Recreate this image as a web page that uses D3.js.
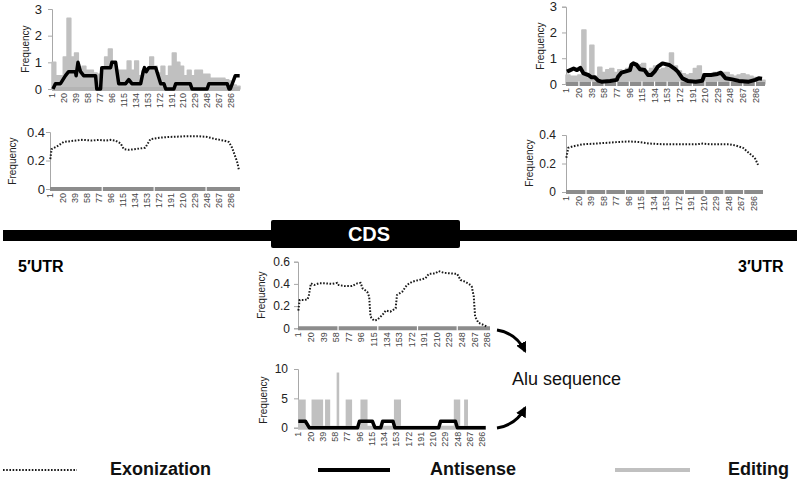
<!DOCTYPE html>
<html><head><meta charset="utf-8">
<script src="https://cdn.jsdelivr.net/npm/d3@7"></script>
<style>body{margin:0;background:#fff}svg{display:block;font-family:"Liberation Sans",Arial,sans-serif}</style>
</head><body>
<svg id="c" width="800" height="480"></svg>
<script>
// ---------- DATA ----------
const tickLabels = ["1","20","39","58","77","96","115","134","153","172","191","210","229","248","267","286"];

// 5'UTR (top-left): editing in 6-position bins, antisense points, exonization points
const editA = [1.0,0.5,0.5,1.2,2.65,1.2,1.35,0.7,0.85,0.7, 0.7,0.6,0.55,0.7,1.2,1.5,1.0,0.7,0.7,0.7,
               1.05,0.7,1.05,0.5,0.7,0.7,1.2,0.85,0.6,0.85, 0.5,0.85,1.35,1.0,0.85,0.5,0.7,0.5,0.7,0.7,
               0.55,0.55,0.4,0.4,0.4,0.4,0.35,0.3,0.15,0.1];
const antiAPos = [2,6,14,22,27,38,39,42,46,51,70,72,78,80,94,96,102,107,118,123,128,142,146,148,151,155,166,174,179,182,195,198,221,224,248,251,280,283,285,293,300];
const antiAVal = [0,0.2,0.2,0.5,0.65,0.65,0.5,1.0,0.65,0.5,0.5,0,0,0.8,0.8,1.0,1.0,0.2,0.2,0.35,0.2,0.2,0.65,0.8,0.65,0.8,0.8,0.2,0.2,0,0,0.2,0.2,0,0,0.2,0.2,0,0,0.5,0.5];
const exoBPos = [1,3,12,22,41,51,67,78,88,96,104,112,117,125,136,151,159,173,188,215,236,249,262,275,283,288,292,296,299];
const exoBVal = [0.21,0.28,0.30,0.33,0.34,0.345,0.34,0.345,0.34,0.345,0.34,0.32,0.28,0.275,0.28,0.29,0.35,0.36,0.365,0.37,0.37,0.365,0.35,0.34,0.33,0.29,0.24,0.19,0.13];

// 3'UTR (top-right)
const editC = [0.35,0.3,0.3,0.35,2.1,0.3,1.5,0.3,0.65,0.45, 0.55,0.6,0.45,0.55,0.5,0.6,0.65,0.8,0.75,0.8,
               0.5,0.6,0.7,0.55,0.6,0.65,1.2,0.7,0.5,0.4, 0.35,0.4,0.6,0.7,0.4,0.3,0.4,0.45,0.4,0.45,
               0.45,0.35,0.3,0.35,0.4,0.35,0.3,0.25,0.2,0.15];
const antiCPos = [2,7,12,17,22,27,34,39,44,49,54,67,77,79,84,92,97,99,102,107,112,119,124,129,134,139,146,156,164,169,176,184,196,206,209,219,229,234,241,251,261,276,286,291,296];
const antiCVal = [0.48,0.54,0.6,0.54,0.63,0.41,0.35,0.26,0.26,0.13,0.09,0.12,0.16,0.28,0.44,0.5,0.54,0.74,0.8,0.74,0.57,0.54,0.35,0.35,0.48,0.67,0.8,0.74,0.6,0.48,0.22,0.12,0.09,0.13,0.35,0.35,0.39,0.44,0.22,0.18,0.12,0.09,0.16,0.22,0.2];
const exoDPos = [1,4,11,26,47,77,97,113,128,148,173,199,209,219,249,260,270,280,288,293];
const exoDVal = [0.24,0.31,0.32,0.335,0.34,0.35,0.355,0.35,0.34,0.335,0.335,0.335,0.34,0.335,0.335,0.325,0.31,0.27,0.24,0.19];

// Alu sequence (middle)
const exoEPos = [1,3,10,15,17,20,25,32,42,52,60,62,72,82,90,95,98,105,108,110,115,120,128,133,140,148,150,158,165,173,183,193,198,208,213,221,231,241,246,253,261,263,266,268,273,281,286];
const exoEVal = [0.16,0.255,0.255,0.26,0.3,0.405,0.39,0.405,0.405,0.4,0.41,0.39,0.38,0.38,0.405,0.41,0.36,0.33,0.285,0.105,0.07,0.075,0.12,0.16,0.15,0.18,0.3,0.33,0.39,0.42,0.435,0.45,0.49,0.495,0.515,0.5,0.495,0.49,0.435,0.42,0.39,0.375,0.285,0.105,0.05,0.03,0.015];
const editFStart = [1,22,43,61,75,98,150,243,259];
const editFEnd   = [12,39,50,64,84,108,160,252,264];
const editFVal   = [4.8,4.8,4.8,9.4,4.8,4.8,4.8,4.8,4.8];
const antiFPos = [1,12,18,93,96,116,120,129,132,148,151,219,222,245,248,292];
const antiFVal = [1.1,1.1,0,0,1.1,1.1,0,0,1.1,1.1,0,0,1.1,1.1,0,0];

const legendLabels = ["Exonization","Antisense","Editing"];

// ---------- DRAWING ----------
const svg = d3.select("#c");
const GREY = "#c0c0c0", BAND = "#8c8c8c";

function panel(o){
  const g = svg.append("g");
  const x = d3.scaleLinear().domain([0.5, o.n + 0.5]).range([o.x0, o.x1]);
  const y = d3.scaleLinear().domain([0, o.ymax]).range([o.y0, o.y1]);
  // y axis
  const ax = g.append("g").attr("transform", `translate(${o.x0},0)`)
    .call(d3.axisLeft(y).tickValues(o.yt).tickSize(4).tickPadding(o.pad).tickFormat(d => String(d)));
  ax.select(".domain").attr("stroke", "#a8a8a8");
  ax.selectAll(".tick line").attr("stroke", "#a8a8a8");
  ax.selectAll(".tick text").attr("font-size", o.fs).attr("fill", "#222")
    .attr("font-family", '"Liberation Sans",Arial,sans-serif');
  // Frequency label
  g.append("text").attr("transform", `translate(${o.fx},${o.fy}) rotate(-90)`)
    .attr("text-anchor", "middle").attr("dy", "0.35em").attr("font-size", 10).attr("fill", "#222").text("Frequency");
  // x tick labels
  g.append("g").selectAll("text").data(tickLabels).join("text")
    .attr("transform", d => `translate(${x(+d)},${o.y0 + 4}) rotate(-90)`)
    .attr("text-anchor", "end").attr("dy", "0.35em").attr("font-size", 9).attr("fill", "#444").text(d => d);
  return {g, x, y};
}

function band(p, o, color, step){
  p.g.append("line").attr("x1", o.x0).attr("x2", o.x1).attr("y1", o.y0).attr("y2", o.y0)
    .attr("stroke", color).attr("stroke-width", 4);
  if (step) {
    p.g.append("g").selectAll("line").data(d3.range(1 + step, o.n, step)).join("line")
      .attr("x1", d => p.x(d)).attr("x2", d => p.x(d)).attr("y1", o.y0 - 2.5).attr("y2", o.y0 + 2.5)
      .attr("stroke", "#fff").attr("stroke-width", 1.2);
  }
}

function editBins(p, o, vals){
  const pts = vals.map((v, i) => [i * 6 + 0.5, v]);
  pts.push([o.n + 0.5, vals[vals.length - 1]]);
  p.g.append("path").datum(pts)
    .attr("d", d3.area().x(d => p.x(d[0])).y0(o.y0).y1(d => p.y(d[1])).curve(d3.curveStepAfter))
    .attr("fill", GREY).attr("stroke", GREY).attr("stroke-width", 1.5).attr("stroke-linejoin", "round");
}

function lineSeries(p, pos, val, dotted, w){
  const pts = pos.map((d, i) => [d, val[i]]);
  const path = p.g.append("path").datum(pts)
    .attr("d", d3.line().x(d => p.x(d[0])).y(d => p.y(d[1])))
    .attr("fill", "none").attr("stroke", dotted ? "#1a1a1a" : "#000");
  if (dotted) path.attr("stroke-width", 2).attr("stroke-dasharray", "1.6,1.6");
  else path.attr("stroke-width", w || 3.5).attr("stroke-linejoin", "round").attr("stroke-linecap", "butt");
}

// Panel A
const oA = {x0:52, x1:240, y0:89, y1:9, ymax:3, yt:[0,1,2,3], n:300, pad:6, fs:13, fx:25, fy:49};
const pA = panel(oA);
editBins(pA, oA, editA);
band(pA, oA, "#b4b4b4", 0);
lineSeries(pA, antiAPos, antiAVal, false, 3.5);

// Panel B
const oB = {x0:50, x1:240, y0:189, y1:132, ymax:0.4, yt:[0,0.2,0.4], n:300, pad:1, fs:13, fx:12, fy:161};
const pB = panel(oB);
band(pB, oB, BAND, 82);
lineSeries(pB, exoBPos, exoBVal, true);

// Panel C
const oC = {x0:566, x1:765, y0:84, y1:6.7, ymax:3, yt:[0,1,2,3], n:300, pad:5, fs:13, fx:540, fy:46};
const pC = panel(oC);
editBins(pC, oC, editC);
band(pC, oC, BAND, 19);
lineSeries(pC, antiCPos, antiCVal, false, 4);

// Panel D
const oD = {x0:566, x1:763, y0:192, y1:135, ymax:0.4, yt:[0,0.2,0.4], n:300, pad:6, fs:12, fx:529, fy:163};
const pD = panel(oD);
band(pD, oD, BAND, 30);
lineSeries(pD, exoDPos, exoDVal, true);

// Panel E
const oE = {x0:298, x1:490, y0:328.3, y1:261.7, ymax:0.6, yt:[0,0.2,0.4,0.6], n:290, pad:4, fs:12, fx:261, fy:295};
const pE = panel(oE);
band(pE, oE, BAND, 60);
lineSeries(pE, exoEPos, exoEVal, true);

// Panel F
const oF = {x0:298, x1:486, y0:427.7, y1:369, ymax:10, yt:[0,5,10], n:292, pad:6, fs:12, fx:263, fy:400};
const pF = panel(oF);
pF.g.append("g").selectAll("rect").data(editFVal).join("rect")
  .attr("x", (d, i) => pF.x(editFStart[i] - 0.5))
  .attr("width", (d, i) => pF.x(editFEnd[i] + 0.5) - pF.x(editFStart[i] - 0.5))
  .attr("y", d => pF.y(d)).attr("height", d => oF.y0 - pF.y(d)).attr("fill", GREY);
band(pF, oF, GREY, 0);
lineSeries(pF, antiFPos, antiFVal, false, 3.5);

// Gene structure
svg.append("rect").attr("x", 3).attr("y", 230).attr("width", 794).attr("height", 11).attr("fill", "#000");
svg.append("rect").attr("x", 271).attr("y", 220).attr("width", 189).attr("height", 28).attr("rx", 2).attr("fill", "#000");
svg.append("text").attr("x", 369).attr("y", 241).attr("text-anchor", "middle").attr("fill", "#fff")
  .attr("font-weight", "bold").attr("font-size", 20).text("CDS");
svg.append("text").attr("x", 18).attr("y", 272).attr("font-weight", "bold").attr("font-size", 16).text("5\u2032UTR");
svg.append("text").attr("x", 738).attr("y", 272).attr("font-weight", "bold").attr("font-size", 16).text("3\u2032UTR");

// Alu + arrows
svg.append("defs").append("marker").attr("id", "ah").attr("viewBox", "0 0 10 10").attr("refX", 8).attr("refY", 5)
  .attr("markerWidth", 3.6).attr("markerHeight", 3.6).attr("orient", "auto")
  .append("path").attr("d", "M0,0L10,5L0,10z").attr("fill", "#000");
svg.append("path").attr("d", "M497,330 Q516,333 525,351").attr("fill", "none").attr("stroke", "#000")
  .attr("stroke-width", 3).attr("marker-end", "url(#ah)");
svg.append("path").attr("d", "M497,428 Q516,425 525,408").attr("fill", "none").attr("stroke", "#000")
  .attr("stroke-width", 3).attr("marker-end", "url(#ah)");
svg.append("text").attr("x", 512).attr("y", 385).attr("font-size", 18).attr("fill", "#111").text("Alu sequence");

// Legend
const lg = svg.append("g");
lg.append("line").attr("x1", 3).attr("x2", 77).attr("y1", 470).attr("y2", 470)
  .attr("stroke", "#1a1a1a").attr("stroke-width", 2).attr("stroke-dasharray", "1.6,1.6");
lg.append("line").attr("x1", 318).attr("x2", 390).attr("y1", 470).attr("y2", 470)
  .attr("stroke", "#000").attr("stroke-width", 4);
lg.append("line").attr("x1", 615).attr("x2", 690).attr("y1", 470).attr("y2", 470)
  .attr("stroke", GREY).attr("stroke-width", 4);
lg.selectAll("text").data(legendLabels).join("text")
  .attr("x", (d, i) => [110, 430, 728][i]).attr("y", 475)
  .attr("font-weight", "bold").attr("font-size", 18).attr("fill", "#111").text(d => d);
</script>
</body></html>
